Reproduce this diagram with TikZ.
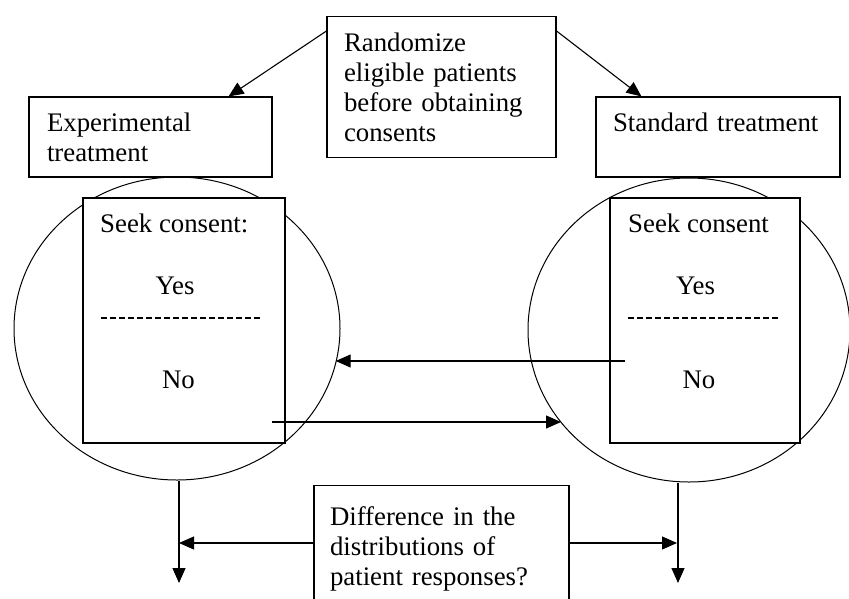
\documentclass[tikz,border=0pt]{standalone}
\usepackage{fontspec}
\setmainfont{Liberation Serif}
\usetikzlibrary{arrows.meta,shapes.geometric}

\def\fsize{\fontsize{26.8}{30}\selectfont}

\begin{document}
\begin{tikzpicture}[x=1pt,y=-1pt,
    box/.style={draw,line width=1.1pt,fill=white,inner sep=0pt},
    txtbox/.style={box,align=left,font=\fsize},
    ring/.style={draw,ellipse,line width=1pt,inner sep=0pt},
    txt/.style={font=\fsize,inner sep=0pt},
    dashrule/.style={line width=1.3pt,dash pattern=on 5.5pt off 3.5pt},
    conn/.style={line width=1.1pt,-{Triangle[length=15pt,width=13pt]}},
  ]
  \useasboundingbox (0,0) rectangle (849,598);
  % Circles first, the consent boxes cover them
  \node[ring,minimum width=326pt,minimum height=303pt] (lcirc) at (177,328.5) {};
  \node[ring,minimum width=322pt,minimum height=304pt] (rcirc) at (689,330) {};
  % Randomization and the two arms
  \node[txtbox,anchor=north,text width=195pt,inner xsep=17pt,inner ysep=15.7pt,minimum height=141pt] (rand) at (441.5,16)
    {Randomize\\eligible patients\\before obtaining\\consents};
  \node[txtbox,text width=207pt,inner xsep=18pt,minimum width=243pt,minimum height=80pt] (exp) at (150.5,137)
    {Experimental\\treatment};
  \node[txtbox,text width=210pt,inner xsep=17pt,minimum width=244pt,minimum height=80pt] (std) at (718,137)
    {Standard treatment\\\mbox{}};
  % Consent boxes
  \node[box,minimum width=202pt,minimum height=245pt] (lbox) at (184,320.5) {};
  \node[box,minimum width=190pt,minimum height=245pt] (rbox) at (705,320.5) {};
  \node[txt,anchor=base west] (lseek) at (100,232) {Seek consent:};
  \node[txt,anchor=base] (lyes) at (175,294) {Yes};
  \node[txt,anchor=base] (lno) at (178.5,388) {No};
  \node[txt,anchor=base west] (rseek) at (628,232) {Seek consent};
  \node[txt,anchor=base] (ryes) at (695.5,294) {Yes};
  \node[txt,anchor=base] (rno) at (699,388) {No};
  \draw[dashrule] (101,318) -- (262,318);
  \draw[dashrule] (628,318) -- (780,318);
  % Question box
  \node[txtbox,anchor=north,text width=223pt,inner xsep=16pt,inner ysep=20.7pt] (diff) at (441.5,485)
    {Difference in the\\distributions of\\patient responses?};
  % Arrows
  \draw[conn] ([yshift=-15pt]rand.north west) -- ([xshift=-44pt]exp.north east);
  \draw[conn] ([yshift=-15pt]rand.north east) -- ([xshift=46pt]std.north west);
  \coordinate (rfrom) at (625,361);
  \coordinate (lfrom) at (272,422);
  \draw[conn] (rfrom) -- (lcirc.-13 |- rfrom);
  \draw[conn] (lfrom) -- (rcirc.216 |- lfrom);
  \coordinate (ldown) at (179,583);
  \coordinate (rdown) at (678,583);
  \draw[conn] (lcirc.south -| ldown) -- (ldown);
  \draw[conn] (rcirc.south -| rdown) -- (rdown);
  \coordinate (lmid) at (179,543);
  \coordinate (rmid) at (677,543);
  \draw[conn] (diff.west |- lmid) -- (lmid);
  \draw[conn] (diff.east |- rmid) -- (rmid);
\end{tikzpicture}
\end{document}
